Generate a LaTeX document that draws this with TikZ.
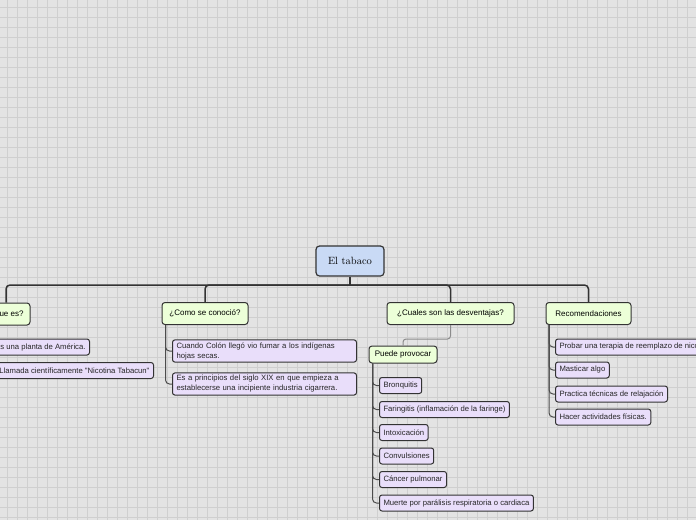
\documentclass[tikz,border=0pt]{standalone}
\usepackage{fontspec}
\newfontfamily\hojafont{Liberation Sans}
\newfontfamily\ramafont{Liberation Sans}
\definecolor{fondo}{HTML}{E3E3E3}
\definecolor{rejilla}{HTML}{CFCFCF}
\definecolor{azulraiz}{HTML}{C9DAF5}
\definecolor{verderama}{HTML}{ECFFD8}
\definecolor{lilahoja}{HTML}{E9DEFA}
\definecolor{borde}{HTML}{333333}
\tikzset{
  raiz/.style={draw=borde, fill=azulraiz, line width=1.2pt, rounded corners=3.5pt,
    minimum width=68pt, minimum height=30pt, font=\fontsize{10.5}{12}\selectfont},
  rama/.style={draw=borde, fill=verderama, line width=1pt, rounded corners=3pt,
    minimum height=22pt, font=\ramafont\fontsize{8}{9}\selectfont},
  hoja/.style={draw=borde, fill=lilahoja, line width=1pt, rounded corners=2.5pt,
    minimum height=16pt, inner xsep=4pt, inner ysep=2.5pt, anchor=west, align=left,
    font=\hojafont\fontsize{7.7}{10}\selectfont, text=black!85},
  tronco/.style={draw=borde, line width=1.5pt, rounded corners=4pt},
  brazo/.style={draw=black!70, line width=1pt, rounded corners=4pt},
  enlace/.style={draw=black!45, line width=1pt, rounded corners=3pt},
}
\begin{document}
\begin{tikzpicture}[x=1pt, y=-1pt]
    %fondo cuadriculado
    \useasboundingbox (0,0) rectangle (696,520);
    \fill[fondo] (0,0) rectangle (696,520);
    \foreach \g in {7,17,...,697} \draw[rejilla, line width=0.9pt] (\g,0) -- (\g,520);
    \foreach \g in {7,17,...,517} \draw[rejilla, line width=0.9pt] (0,\g) -- (696,\g);

    %nodo central e ramas
    \node[raiz] (tabaco) at (350,261) {El tabaco};
    \node[rama, minimum width=48pt] (quees) at (6,314) {¿Que es?};
    \node[rama, minimum width=86pt] (como) at (205,313.5) {¿Como se conoció?};
    \node[rama, minimum width=127pt] (cuales) at (450.5,313.5) {¿Cuales son las desventajas?};
    \node[rama, minimum width=85pt] (recom) at (588.5,313.5) {Recomendaciones};
    \node[rama, minimum width=68pt, minimum height=17pt] (puede) at (403,354.5) {Puede provocar};

    %hojas
    \node[hoja, anchor=east] (planta) at (90,347) {Es una planta de América.};
    \node[hoja, anchor=east] (llamada) at (154,370.5) {Llamada científicamente "Nicotina Tabacun"};
    \node[hoja, text width=176pt] (colon) at (172,351) {Cuando Colón llegó vio fumar a los indígenas\\hojas secas.};
    \node[hoja, text width=176pt] (siglo) at (172,384) {Es a principios del siglo XIX en que empieza a\\establecerse una incipiente industria cigarrera.};
    \node[hoja] (bronq) at (379,385.5) {Bronquitis};
    \node[hoja] (faringe) at (379,409.5) {Faringitis (inflamación de la faringe)};
    \node[hoja] (intox) at (379,432.5) {Intoxicación};
    \node[hoja] (convul) at (379,456) {Convulsiones};
    \node[hoja] (cancer) at (379,479.5) {Cáncer pulmonar};
    \node[hoja] (muerte) at (379,503) {Muerte por parálisis respiratoria o cardiaca};
    \node[hoja] (probar) at (555,347) {Probar una terapia de reemplazo de nicotina};
    \node[hoja] (mastic) at (555,370) {Masticar algo};
    \node[hoja] (practica) at (555,394) {Practica técnicas de relajación};
    \node[hoja] (hacer) at (555,417) {Hacer actividades físicas.};

    %conexiones
    \coordinate (bus) at (350,285);
    \draw[tronco] (tabaco.south) -- (bus);
    \foreach \r in {quees,como,cuales,recom} \draw[tronco] (bus) -| (\r.north);
    \foreach \h in {planta,llamada} \draw[brazo] ([xshift=4pt]quees.south west) |- (\h.west);
    \foreach \h in {colon,siglo} \draw[brazo] ([xshift=4pt]como.south west) |- (\h.west);
    \draw[enlace] (cuales.south) -- ++(0,14) -| (puede.north);
    \foreach \h in {bronq,faringe,intox,convul,cancer,muerte}
        \draw[brazo] ([xshift=4pt]puede.south west) |- (\h.west);
    \foreach \h in {probar,mastic,practica,hacer}
        \draw[brazo] ([xshift=3.5pt]recom.south west) |- (\h.west);
\end{tikzpicture}
\end{document}
